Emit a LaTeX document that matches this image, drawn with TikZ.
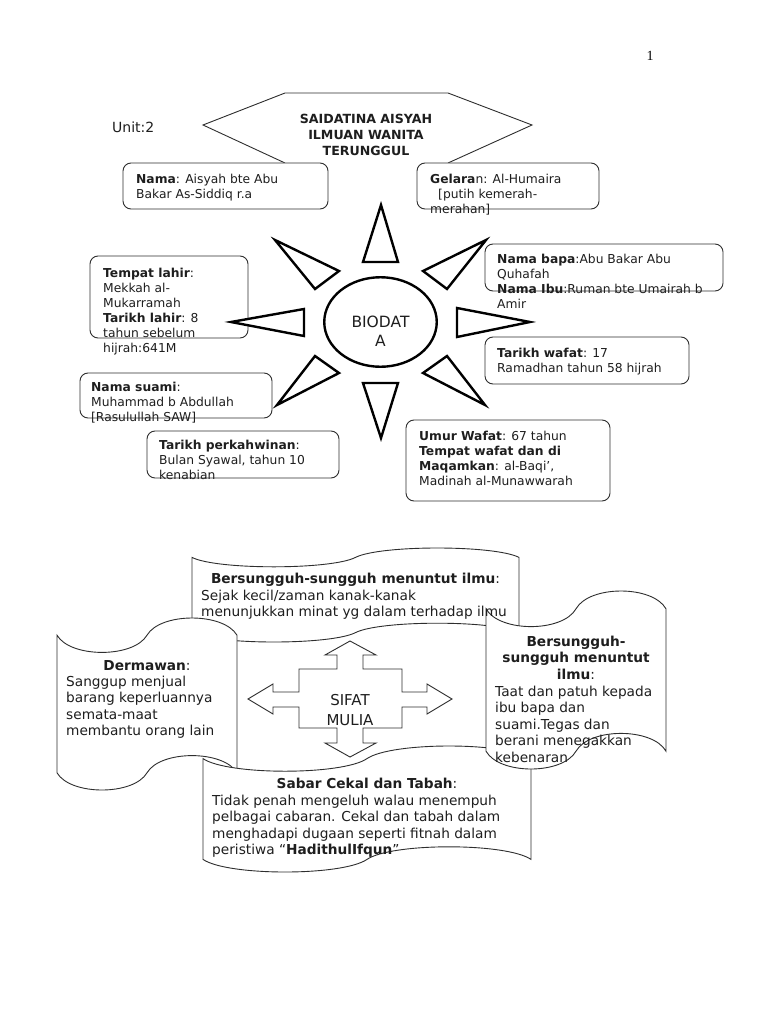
\documentclass[tikz,border=0pt]{standalone}
\usepackage{fontspec}
\setmainfont{DejaVu Sans}
\newfontfamily\serifnum{Liberation Serif}
\usetikzlibrary{shapes.geometric}
\definecolor{lncol}{HTML}{2E2E2E}
\definecolor{txtcol}{HTML}{1E1E1E}
\newcommand\ftop{\rule{0pt}{0.8em}}
\newcommand\tapeshape[5]{%
  \pgfmathsetmacro\tA{(#5-#3)/10}%
  \pgfmathsetmacro\tM{(#2+#4)/2}%
  \pgfmathsetmacro\tK{4/3*\tA}%
  \pgfmathsetmacro\tQ{0.15*(#4-#2)/2}%
  \draw[tape] (#2,#3+\tA) .. controls (#2+\tQ,#3+\tA+\tK) and (\tM-\tQ,#3+\tA+\tK) .. (\tM,#3+\tA)
     .. controls (\tM+\tQ,#3+\tA-\tK) and (#4-\tQ,#3+\tA-\tK) .. (#4,#3+\tA)
     -- (#4,#5-\tA)
     .. controls (#4-\tQ,#5-\tA-\tK) and (\tM+\tQ,#5-\tA-\tK) .. (\tM,#5-\tA)
     .. controls (\tM-\tQ,#5-\tA+\tK) and (#2+\tQ,#5-\tA+\tK) .. (#2,#5-\tA) -- cycle;
  \coordinate (#1) at (\tM,{(#3+#5)/2});%
}
\begin{document}
\begin{tikzpicture}[x=1pt,y=-1pt,
 box/.style={draw=lncol, line width=0.9pt, rounded corners=8pt, fill=white, inner sep=0pt},
 ray/.style={draw=black, line width=2.4pt, fill=white, line join=miter},
 tape/.style={draw=lncol, line width=0.9pt, fill=white},
 hexline/.style={draw=lncol, line width=0.9pt},
 topt/.style={anchor=north west, align=left, inner sep=0pt, text=txtcol, font=\fontsize{12.3}{15}\selectfont},
 bott/.style={anchor=north west, align=left, inner sep=0pt, text=txtcol, font=\fontsize{13.7}{16.6}\selectfont},
 botc/.style={anchor=north, align=center, inner sep=0pt, text=txtcol, font=\fontsize{13.7}{16.6}\selectfont},
]
\fill[white] (0,0) rectangle (768,1024);
\useasboundingbox (0,0) rectangle (768,1024);

% page number and unit
\node[anchor=base, inner sep=0pt, font=\serifnum\fontsize{14}{16}\selectfont] (pnum) at (650,61) {1};
\node[anchor=north west, inner sep=0pt, text=txtcol, font=\fontsize{14}{16}\selectfont] (unit) at (112,120.8) {\ftop Unit:2};

% title hexagon (bottom hidden)
\coordinate (hbl) at (285,163);
\coordinate (hl) at (203,125);
\coordinate (htl) at (285,93);
\coordinate (htr) at (448,93);
\coordinate (hr) at (532,125);
\coordinate (hbr) at (448,163);
\draw[hexline] (hbl) -- (hl) -- (htl) -- (htr) -- (hr) -- (hbr);
\node[anchor=north, align=center, inner sep=0pt, text=txtcol, font=\bfseries\fontsize{12.6}{16}\selectfont] (title) at (366,113) {\ftop SAIDATINA AISYAH\\ILMUAN WANITA\\TERUNGGUL};

% boxes
\node[box, minimum width=205pt, minimum height=46pt] (namabox) at (225.5,186) {};
\node[box, minimum width=182pt, minimum height=46pt] (gelarbox) at (508,186) {};
\node[box, minimum width=158pt, minimum height=82pt] (tempatbox) at (169,297) {};
\node[box, minimum width=192pt, minimum height=45pt] (suamibox) at (176,395.5) {};
\node[box, minimum width=238pt, minimum height=47pt] (bapabox) at (604,267.5) {};
\node[box, minimum width=204pt, minimum height=47pt] (wafatbox) at (587,360.5) {};
\node[box, minimum width=192pt, minimum height=47pt] (kahwinbox) at (243,454.5) {};
\node[box, minimum width=204pt, minimum height=81pt] (umurbox) at (508,460.5) {};

% rays
\draw[ray] (381,205) -- (363,262) -- (398,262) -- cycle;
\draw[ray] (381,438) -- (363,383) -- (398,383) -- cycle;
\draw[ray] (231,322) -- (304,309) -- (304,336) -- cycle;
\draw[ray] (530,322) -- (457,308) -- (457,337) -- cycle;
\draw[ray] (275,240) -- (339,271) -- (315,289) -- cycle;
\draw[ray] (486,240) -- (423,271) -- (447,289) -- cycle;
\draw[ray] (277,405) -- (315,356) -- (339,373) -- cycle;
\draw[ray] (485,405) -- (447,356) -- (423,373) -- cycle;
\node[draw=black, line width=2.4pt, ellipse, minimum width=112.5pt, minimum height=89.5pt, inner sep=0pt, fill=white] (bio) at (380.5,322) {};
\node[anchor=north, align=center, inner sep=0pt, text=txtcol, font=\fontsize{15.5}{19}\selectfont] (biotext) at (380.5,314.6) {\ftop BIODAT\\A};

% box texts
\node[topt] (namatext) at (136,173.2) {\ftop\textbf{Nama}: Aisyah bte Abu\\Bakar As-Siddiq r.a};
\node[topt] (gelartext) at (430,173.2) {\ftop\textbf{Gelara}n: Al-Humaira\\{}\hspace*{8pt}{[}putih kemerah-\\merahan{]}};
\node[topt] (tempattext) at (103,267.2) {\ftop\textbf{Tempat lahir}:\\Mekkah al-\\Mukarramah\\\textbf{Tarikh lahir}: 8\\tahun sebelum\\hijrah:641M};
\node[topt] (suamitext) at (91,381.2) {\ftop\textbf{Nama suami}:\\Muhammad b Abdullah\\{[}Rasulullah SAW{]}};
\node[topt] (bapatext) at (497,253.2) {\ftop\textbf{Nama bapa}:Abu Bakar Abu\\Quhafah\\\textbf{Nama Ibu}:Ruman bte Umairah b\\Amir};
\node[topt] (wafattext) at (497,347.2) {\ftop\textbf{Tarikh wafat}: 17\\Ramadhan tahun 58 hijrah};
\node[topt] (kahwintext) at (159,439.2) {\ftop\textbf{Tarikh perkahwinan}:\\Bulan Syawal, tahun 10\\kenabian};
\node[topt] (umurtext) at (419,430.2) {\ftop\textbf{Umur Wafat}: 67 tahun\\\textbf{Tempat wafat dan di}\\\textbf{Maqamkan}: al-Baqi’,\\Madinah al-Munawwarah};

% scrolls
\tapeshape{scrA}{192}{548}{519}{642}
\tapeshape{scrB}{57}{618}{237}{790}
\tapeshape{scrD}{203}{746}{531}{872}
\tapeshape{scrC}{486}{591}{666}{769}

% central cross arrow
\draw[draw=lncol, line width=0.9pt, fill=white]
 (350,641) -- (376,655) -- (363,655) -- (363,669) -- (402,669) -- (402,692) -- (427,692) -- (427,684)
 -- (452,699) -- (427,714) -- (427,707) -- (402,707) -- (402,728) -- (363,728) -- (363,743) -- (376,743)
 -- (350,757) -- (325,743) -- (337,743) -- (337,728) -- (299,728) -- (299,707) -- (273,707) -- (273,714)
 -- (248,699) -- (273,684) -- (273,692) -- (299,692) -- (299,669) -- (337,669) -- (337,655) -- (325,655) -- cycle;
\node[anchor=north, align=center, inner sep=0pt, text=txtcol, font=\fontsize{15}{20}\selectfont] (sifat) at (350,693) {\ftop SIFAT\\MULIA};

% scroll texts
\node[botc] (atitle) at (355.5,572) {\ftop\textbf{Bersungguh-sungguh menuntut ilmu}:};
\node[bott] (abody) at (201,589) {\ftop Sejak kecil/zaman kanak-kanak\\menunjukkan minat yg dalam terhadap ilmu};
\node[botc] (btitle) at (147,659) {\ftop\textbf{Dermawan}:};
\node[bott] (bbody) at (66,675) {\ftop Sanggup menjual\\barang keperluannya\\semata-maat\\membantu orang lain};
\node[botc] (ctitle) at (576,635) {\ftop\textbf{Bersungguh-}\\\textbf{sungguh menuntut}\\\textbf{ilmu}:};
\node[bott] (cbody) at (495,685) {\ftop Taat dan patuh kepada\\ibu bapa dan\\suami.Tegas dan\\berani menegakkan\\kebenaran};
\node[botc] (dtitle) at (367,777) {\ftop\textbf{Sabar Cekal dan Tabah}:};
\node[bott] (dbody) at (212,794) {\ftop Tidak penah mengeluh walau menempuh\\pelbagai cabaran. Cekal dan tabah dalam\\menghadapi dugaan seperti fitnah dalam\\peristiwa “\textbf{HadithulIfqun}”};
\end{tikzpicture}
\end{document}
